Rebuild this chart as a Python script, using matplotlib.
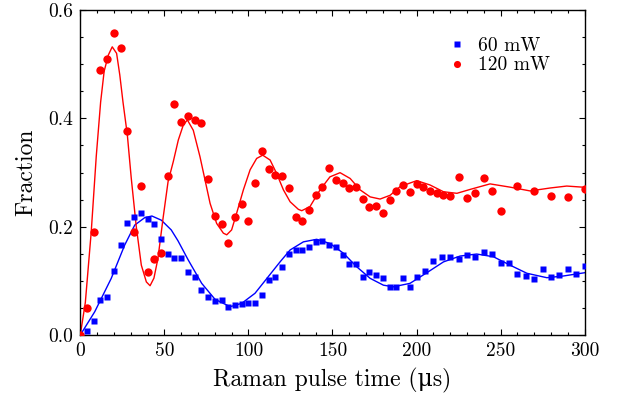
import matplotlib
matplotlib.use("Agg")
import matplotlib.pyplot as plt

plt.rcParams['font.family'] = ['cmr10', 'DejaVu Serif']
plt.rcParams['mathtext.fontset'] = 'cm'
plt.rcParams['axes.formatter.use_mathtext'] = True

# measured points, 60 mW
t60 = [4, 8, 12, 16, 20, 24, 28, 32, 36, 40, 44, 48, 52, 56, 60, 64, 68, 72, 76, 80,
       84, 88, 92, 96, 100, 104, 108, 112, 116, 120, 124, 128, 132, 136, 140, 144, 148,
       152, 156, 160, 164, 168, 172, 176, 180, 184, 188, 192, 196, 200,
       205, 210, 215, 220, 225, 230, 235, 240, 245, 250, 255, 260, 265, 270, 275, 280,
       285, 290, 295, 300]
f60 = [0.008, 0.026, 0.065, 0.070, 0.118, 0.166, 0.207, 0.217, 0.226, 0.215,
       0.205, 0.177, 0.150, 0.143, 0.143, 0.117, 0.108, 0.084, 0.071, 0.062,
       0.065, 0.052, 0.055, 0.058, 0.060, 0.060, 0.073, 0.101, 0.108, 0.1255,
       0.1495, 0.157, 0.157, 0.163, 0.172, 0.174, 0.167, 0.1625, 0.148, 0.1305,
       0.1305, 0.108, 0.116, 0.111, 0.106, 0.089, 0.089, 0.106, 0.089, 0.108,
       0.118, 0.137, 0.144, 0.144, 0.141, 0.148, 0.144, 0.153, 0.150, 0.1335,
       0.1335, 0.113, 0.1095, 0.104, 0.121, 0.108, 0.111, 0.121, 0.113, 0.128]

# measured points, 120 mW
t120 = [0, 4, 8, 12, 16, 20, 24, 28, 32, 36, 40, 44, 48, 52, 56, 60, 64, 68, 72, 76,
        80, 84, 88, 92, 96, 100, 104, 108, 112, 116, 120, 124, 128, 132, 136, 140,
        144, 148, 152, 156, 160, 164, 168, 172, 176, 180, 184, 188, 192, 196, 200,
        204, 208, 212, 216, 220, 225, 230, 235, 240, 245, 250, 260, 270, 280, 290, 300]
f120 = [0.0, 0.05, 0.19, 0.49, 0.51, 0.557, 0.53, 0.377, 0.19, 0.275,
        0.116, 0.141, 0.151, 0.293, 0.427, 0.393, 0.405, 0.397, 0.392, 0.288,
        0.22, 0.205, 0.17, 0.218, 0.241, 0.21, 0.281, 0.339, 0.306, 0.295,
        0.294, 0.271, 0.218, 0.21, 0.23, 0.259, 0.274, 0.308, 0.286, 0.28,
        0.271, 0.273, 0.252, 0.236, 0.238, 0.225, 0.25, 0.266, 0.277, 0.264,
        0.279, 0.274, 0.266, 0.262, 0.259, 0.257,
        0.292, 0.253, 0.263, 0.29, 0.265, 0.229, 0.276, 0.266, 0.257, 0.255, 0.269]

# fitted curves
fit60_t = [0, 8.6, 18.4, 26.4, 32.4, 38.3, 42.6, 48.2, 54.1, 58.1,
           64.2, 72.2, 80.1, 88, 90, 96, 103.9, 111.8, 118.8, 124.8,
           132.7, 140.6, 148.5, 156.5, 164.4, 172.4, 180.3, 186.2, 196.1, 206.1,
           216, 225.9, 235.8, 245.7, 255.6, 265.6, 277.5, 287.4, 300]
fit60_f = [0, 0.043, 0.1045, 0.166, 0.203, 0.2166, 0.2197, 0.212, 0.194, 0.174,
           0.1385, 0.0954, 0.066, 0.054, 0.053, 0.0585, 0.077, 0.1077, 0.135, 0.157,
           0.172, 0.1767, 0.169, 0.151, 0.126, 0.1046, 0.092, 0.089, 0.0954, 0.115,
           0.135, 0.1458, 0.1495, 0.1445, 0.129, 0.114, 0.1058, 0.109, 0.115]

fit120_t = [0, 3, 6.5, 9.5, 12.1, 14.2, 16.7, 19.0, 21.6, 23.5, 25.4, 28,
            30.3, 33.3, 36.3, 39.3, 41.5, 43.8, 46.2, 49.2, 52.2, 55.3,
            58.3, 61.3, 63.7, 67.2, 71.2, 74.2, 77.2, 81.1, 85.1, 87.1,
            90, 93, 97, 101, 104.9, 108.5, 112.9, 116.8, 120.8, 124.8,
            129.7, 131.7, 136.6, 142.6, 148.5, 154.5, 160.5, 166.4, 172.4, 178.3,
            184.3, 190.2, 200.1, 208, 216, 224, 232.1, 243.7, 255.6, 267.5,
            279.4, 289.3, 300]
fit120_f = [0, 0.06, 0.19, 0.33, 0.43, 0.487, 0.517, 0.532, 0.52, 0.48, 0.43, 0.369,
            0.29, 0.2, 0.129, 0.098, 0.091, 0.105, 0.1415, 0.215, 0.283, 0.32,
            0.36, 0.388, 0.397, 0.378, 0.329, 0.286, 0.243, 0.206, 0.188, 0.185,
            0.194, 0.225, 0.268, 0.305, 0.326, 0.332, 0.323, 0.298, 0.268, 0.246,
            0.232, 0.2295, 0.237, 0.268, 0.292, 0.2997, 0.289, 0.268, 0.255, 0.251,
            0.258, 0.274, 0.285, 0.277, 0.2645, 0.2616, 0.269, 0.279, 0.273, 0.266,
            0.2714, 0.275, 0.2727]

xticks = [0, 50, 100, 150, 200, 250, 300]
xticklabels = ['0', '50', '100', '150', '200', '250', '300']
yticks = [0.0, 0.2, 0.4, 0.6]
yticklabels = ['0.0', '0.2', '0.4', '0.6']

fig = plt.figure(figsize=(6.19, 3.94), dpi=100)
ax = fig.add_axes([0.1297, 0.1497, 0.8149, 0.8249])

ax.plot(fit60_t, fit60_f, color='#0000ff', lw=1.0, zorder=2)
ax.plot(fit120_t, fit120_f, color='#ff0000', lw=1.0, zorder=2)
ax.plot(t60, f60, 's', color='#0000ff', ms=5, mec='none', label='60 mW', zorder=3)
ax.plot(t120, f120, 'o', color='#ff0000', ms=6, mec='none', label='120 mW', zorder=4)

ax.set_xlim(0, 300)
ax.set_ylim(0, 0.6)
ax.set_xticks(xticks)
ax.set_xticklabels(xticklabels)
ax.set_yticks(yticks)
ax.set_yticklabels(yticklabels)
ax.set_xticks(range(0, 301, 10), minor=True)
ax.set_yticks([i * 0.05 for i in range(13)], minor=True)
ax.tick_params(which='both', direction='in', top=True, right=True, labelsize=14)
ax.tick_params(which='major', length=4.5, width=0.8, pad=5)
ax.tick_params(which='minor', length=2.3, width=0.8)
for s in ax.spines.values():
    s.set_linewidth(1.0)

ax.set_xlabel('Raman pulse time (μs)', fontsize=17, labelpad=6)
ax.set_ylabel('Fraction', fontsize=17, labelpad=8)

ax.legend(loc='upper left', bbox_to_anchor=(0.70, 0.96), frameon=False, fontsize=14,
          handlelength=1.0, handletextpad=0.6, labelspacing=0.1, borderpad=0.2,
          markerscale=0.85)

fig.savefig('out.png', dpi=100)
